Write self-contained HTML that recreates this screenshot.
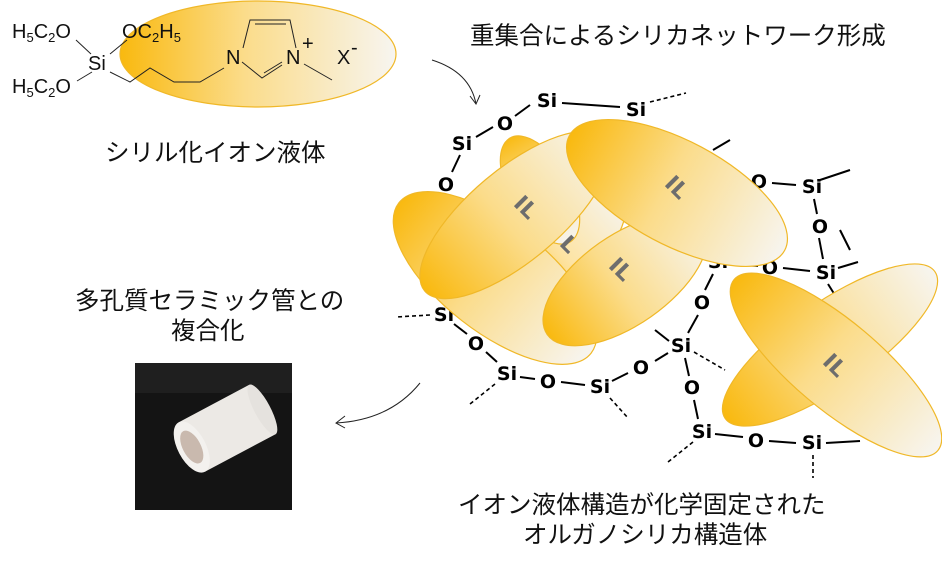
<!DOCTYPE html>
<html><head><meta charset="utf-8"><style>
body{margin:0;background:#fff;}
svg{display:block;}
.jp{font-family:"Liberation Sans","Noto Sans CJK JP",sans-serif;font-size:24.5px;fill:#111;}
.at{font-family:"DejaVu Sans","Liberation Sans",sans-serif;font-size:19px;font-weight:bold;fill:#000;text-anchor:middle;dominant-baseline:central;}
.il{font-family:"DejaVu Sans",sans-serif;font-size:22px;font-weight:bold;fill:#6d6d6d;text-anchor:middle;dominant-baseline:central;}
.ch{font-family:"Liberation Sans",sans-serif;font-size:20px;fill:#111;}
</style></head><body>
<svg width="942" height="569" viewBox="0 0 942 569" xmlns="http://www.w3.org/2000/svg">
<defs>
<linearGradient id="g" x1="0" y1="0" x2="1" y2="0">
<stop offset="0" stop-color="#f9b90f"/><stop offset="0.45" stop-color="#fbdc8a"/><stop offset="1" stop-color="#f7f5f0"/>
</linearGradient>
<linearGradient id="g2" x1="0" y1="0" x2="1" y2="0">
<stop offset="0" stop-color="#f9bb15"/><stop offset="0.5" stop-color="#fde4a4"/><stop offset="1" stop-color="#f6f4ef"/>
</linearGradient>
</defs>

<!-- top-left molecule -->
<ellipse cx="258" cy="54" rx="138" ry="53" fill="url(#g)" stroke="#f0b828" stroke-width="1.2"/>
<g stroke="#222" stroke-width="1" fill="none">
<line x1="76" y1="40" x2="91" y2="54"/><line x1="127" y1="40" x2="110" y2="54"/>
<line x1="77" y1="81" x2="92" y2="72"/>
<polyline points="110,72 130,82 150,68 174,82 200,82 224,68"/>
<polyline points="243,48 250,20 290,20 296,48"/>
<line x1="255" y1="24" x2="286" y2="24"/>
<polyline points="242,62 262,78 282,65"/>
<line x1="264" y1="73" x2="282" y2="62"/>
<line x1="304" y1="64" x2="332" y2="80"/>
</g>
<text class="ch" x="12" y="38">H<tspan font-size="13" dy="4">5</tspan><tspan dy="-4">C</tspan><tspan font-size="13" dy="4">2</tspan><tspan dy="-4">O</tspan></text>
<text class="ch" x="122" y="38">OC<tspan font-size="13" dy="4">2</tspan><tspan dy="-4">H</tspan><tspan font-size="13" dy="4">5</tspan></text>
<text class="ch" x="88" y="70">Si</text>
<text class="ch" x="12" y="93">H<tspan font-size="13" dy="4">5</tspan><tspan dy="-4">C</tspan><tspan font-size="13" dy="4">2</tspan><tspan dy="-4">O</tspan></text>
<text class="ch" x="226" y="64">N</text>
<text class="ch" x="286" y="64">N</text>
<text class="ch" x="302" y="50" font-size="14">+</text>
<text class="ch" x="337" y="64">X</text>
<text class="ch" x="351" y="54" font-size="14">-</text>
<text class="jp" x="105" y="161">シリル化イオン液体</text>

<text class="jp" x="470" y="44">重集合によるシリカネットワーク形成</text>
<path d="M432 60 Q470 72 476 104" stroke="#222" fill="none"/>
<path d="M470 96 L476 104 L480 95" stroke="#222" fill="none"/>

<text class="jp" x="75" y="309">多孔質セラミック管との</text>
<text class="jp" x="171" y="339">複合化</text>
<path d="M420 383 Q390 420 336 423" stroke="#222" fill="none"/>
<path d="M345 416 L336 423 L345 428" stroke="#222" fill="none"/>

<!-- photo -->
<rect x="135" y="363" width="157" height="147" fill="#141414"/>
<rect x="135" y="363" width="157" height="30" fill="#2a2a2a" opacity="0.5"/>
<g transform="rotate(-28 205 440)">
<rect x="190" y="412" width="80" height="56" fill="#ece9e5"/>
<ellipse cx="270" cy="440" rx="8" ry="28" fill="#e5e2de"/>
<ellipse cx="190" cy="440" rx="14" ry="28" fill="#f3f1ee"/>
<ellipse cx="190" cy="440" rx="9" ry="18" fill="#c9b9ae"/>
</g>

<text class="jp" x="458" y="513">イオン液体構造が化学固定された</text>
<text class="jp" x="523" y="543">オルガノシリカ構造体</text>

<!-- network bonds -->
<g stroke="#000" stroke-width="2" fill="none">
<line x1="562" y1="103" x2="620" y2="107"/>
<line x1="530" y1="105" x2="515" y2="116"/>
<line x1="493" y1="127" x2="476" y2="137"/>
<line x1="460" y1="155" x2="452" y2="172"/>
<line x1="820" y1="180" x2="850" y2="170"/>
<line x1="772" y1="183" x2="796" y2="185"/>
<line x1="814" y1="199" x2="817" y2="214"/>
<line x1="819" y1="238" x2="823" y2="259"/>
<line x1="731" y1="264" x2="758" y2="266"/>
<line x1="783" y1="268" x2="810" y2="271"/>
<line x1="838" y1="268" x2="858" y2="262"/>
<line x1="828" y1="284" x2="838" y2="300"/>
<line x1="713" y1="274" x2="705" y2="290"/>
<line x1="698" y1="315" x2="688" y2="333"/>
<line x1="685" y1="358" x2="689" y2="376"/>
<line x1="694" y1="400" x2="698" y2="419"/>
<line x1="715" y1="434" x2="743" y2="437"/>
<line x1="769" y1="441" x2="796" y2="443"/>
<line x1="826" y1="443" x2="860" y2="441"/>
<line x1="454" y1="324" x2="467" y2="334"/>
<line x1="486" y1="352" x2="497" y2="362"/>
<line x1="520" y1="377" x2="535" y2="379"/>
<line x1="561" y1="382" x2="585" y2="385"/>
<line x1="612" y1="381" x2="628" y2="373"/>
<line x1="655" y1="361" x2="668" y2="353"/>
<line x1="669" y1="341" x2="655" y2="330"/>
<line x1="840" y1="230" x2="850" y2="250"/>
<line x1="713" y1="150" x2="730" y2="140"/>
</g>
<g stroke="#000" stroke-width="1.6" stroke-dasharray="4,3" fill="none">
<line x1="650" y1="102" x2="686" y2="93"/>
<line x1="430" y1="315" x2="396" y2="317"/>
<line x1="495" y1="384" x2="470" y2="404"/>
<line x1="610" y1="398" x2="628" y2="418"/>
<line x1="694" y1="352" x2="725" y2="370"/>
<line x1="693" y1="442" x2="668" y2="462"/>
<line x1="813" y1="455" x2="813" y2="478"/>
</g>
<g>
<text class="at" x="547" y="101">Si</text><text class="at" x="636" y="110">Si</text>
<text class="at" x="462" y="144">Si</text><text class="at" x="446" y="185">O</text>
<text class="at" x="759" y="182">O</text><text class="at" x="812" y="187">Si</text>
<text class="at" x="820" y="227">O</text>
<text class="at" x="718" y="262">Si</text><text class="at" x="770" y="268">O</text><text class="at" x="826" y="273">Si</text>
<text class="at" x="702" y="303">O</text><text class="at" x="681" y="346">Si</text>
<text class="at" x="692" y="388">O</text><text class="at" x="702" y="432">Si</text>
<text class="at" x="756" y="441">O</text><text class="at" x="812" y="443">Si</text>
<text class="at" x="444" y="315">Si</text><text class="at" x="476" y="344">O</text>
<text class="at" x="507" y="374">Si</text><text class="at" x="548" y="382">O</text>
<text class="at" x="600" y="387">Si</text><text class="at" x="641" y="368">O</text>
</g>

<!-- IL ellipses -->
<g stroke="#f0b828" stroke-width="1.2">
<ellipse cx="560" cy="250" rx="80" ry="35" transform="rotate(-40 560 250)" fill="url(#g2)"/>
<ellipse cx="540" cy="190" rx="60" ry="30" transform="rotate(60 540 190)" fill="url(#g2)"/>
<ellipse cx="545" cy="320" rx="55" ry="25" transform="rotate(30 545 320)" fill="url(#g2)"/>
<ellipse cx="495" cy="278" rx="122" ry="54" transform="rotate(38 495 278)" fill="url(#g)"/>
<ellipse cx="625" cy="280" rx="95" ry="45" transform="rotate(-35 625 280)" fill="url(#g)"/>
<ellipse cx="515" cy="215" rx="118" ry="46" transform="rotate(-40 515 215)" fill="url(#g)"/>
<ellipse cx="677" cy="193" rx="122" ry="52" transform="rotate(28 677 193)" fill="url(#g)"/>
<ellipse cx="830" cy="345" rx="128" ry="42" transform="rotate(-35 830 345)" fill="url(#g)"/>
<ellipse cx="836" cy="365" rx="133" ry="44" transform="rotate(40 836 365)" fill="url(#g)"/>
</g>
<text class="il" x="525" y="208" transform="rotate(45 525 208)">IL</text>
<text class="il" x="568" y="245" transform="rotate(45 568 245)">L</text>
<text class="il" x="620" y="270" transform="rotate(45 620 270)">IL</text>
<text class="il" x="676" y="188" transform="rotate(45 676 188)">IL</text>
<text class="il" x="834" y="366" transform="rotate(45 834 366)">IL</text>
<circle cx="505" cy="124" r="12" fill="#fff"/>
<text class="at" x="505" y="124">O</text>
</svg>
</body></html>
